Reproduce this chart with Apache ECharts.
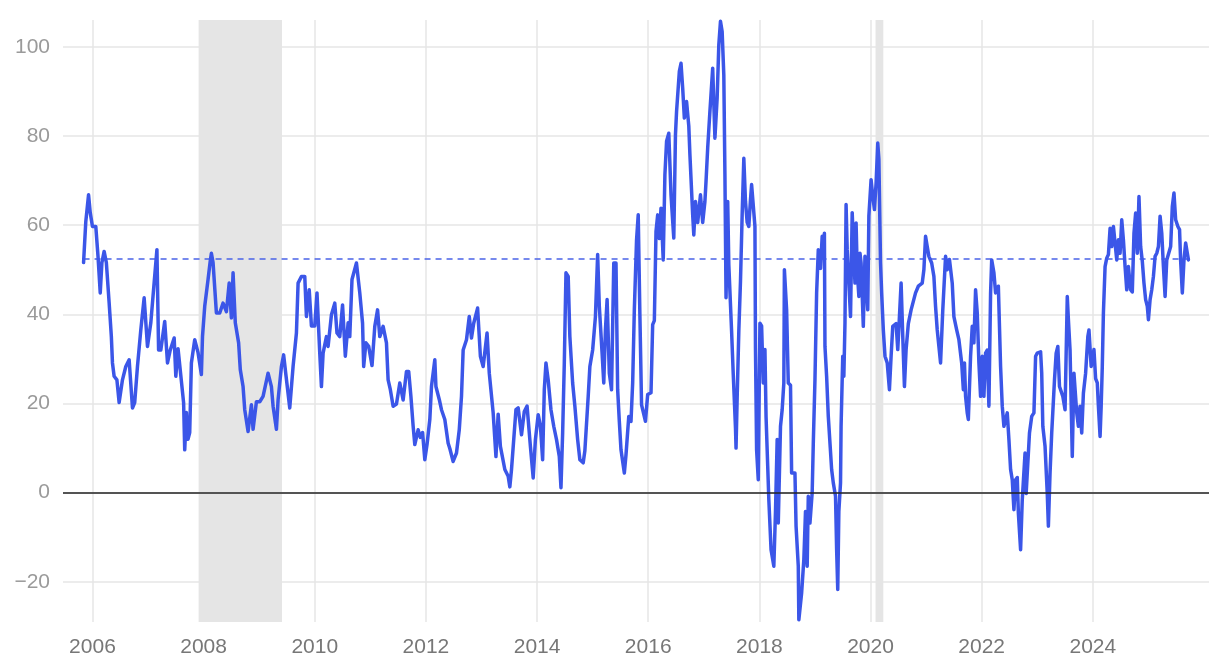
<!DOCTYPE html>
<html><head><meta charset="utf-8">
<script src="https://cdn.jsdelivr.net/npm/echarts@6/dist/echarts.min.js"></script>
<style>html,body{margin:0;padding:0;background:#fff}#c{width:1220px;height:668px}</style>
</head><body><div id="c"></div>
<script>
// decimal years
const years = [
2005.84,2005.86,2005.88,2005.93,2005.96,2006.00,2006.06,2006.10,2006.14,2006.17,2006.21,2006.25,2006.30,2006.34,2006.36,2006.39,2006.44,2006.48,2006.54,2006.60,2006.66,2006.72,2006.76,2006.81,2006.87,2006.93,2006.99,2007.05,2007.11,2007.16,2007.19,2007.23,2007.30,2007.35,2007.40,2007.47,2007.50,2007.54,2007.64,2007.66,2007.69,2007.72,2007.75,2007.78,2007.84,2007.90,2007.96,2007.98,
2008.02,2008.08,2008.12,2008.14,2008.17,2008.23,2008.29,2008.35,2008.41,2008.46,2008.50,2008.53,2008.57,2008.63,2008.66,2008.71,2008.74,2008.80,2008.86,2008.89,2008.95,
2009.01,2009.07,2009.16,2009.22,2009.25,2009.31,2009.34,2009.40,2009.44,2009.48,2009.55,2009.61,2009.67,2009.70,2009.76,2009.82,2009.85,2009.90,2009.94,
2010.00,2010.04,2010.09,2010.12,2010.15,2010.21,2010.24,2010.30,2010.36,2010.40,2010.45,2010.50,2010.55,2010.60,2010.63,2010.67,2010.75,2010.81,2010.86,2010.88,2010.92,2010.97,
2011.03,2011.08,2011.13,2011.17,2011.23,2011.29,2011.32,2011.36,2011.41,2011.47,2011.53,2011.59,2011.65,2011.69,2011.73,2011.77,2011.80,2011.86,2011.90,2011.94,2011.98,
2012.02,2012.07,2012.10,2012.16,2012.18,2012.24,2012.28,2012.34,2012.40,2012.43,2012.49,2012.55,2012.60,2012.64,2012.67,2012.73,2012.78,2012.82,2012.86,2012.93,2012.98,
2013.03,2013.10,2013.14,2013.21,2013.26,2013.30,2013.34,2013.42,2013.48,2013.51,2013.54,2013.62,2013.66,2013.72,2013.77,2013.82,2013.88,2013.93,2013.97,
2014.02,2014.06,2014.10,2014.13,2014.16,2014.20,2014.25,2014.30,2014.35,2014.40,2014.43,2014.46,2014.49,2014.52,2014.56,2014.59,2014.64,2014.68,2014.73,2014.77,2014.83,2014.86,2014.92,2014.95,
2015.00,2015.05,2015.09,2015.12,2015.17,2015.20,2015.23,2015.26,2015.30,2015.34,2015.38,2015.42,2015.45,2015.48,2015.51,2015.57,2015.60,2015.65,2015.69,2015.72,2015.75,2015.79,2015.82,2015.85,2015.88,2015.95,2015.99,
2016.05,2016.08,2016.11,2016.14,2016.17,2016.20,2016.23,2016.27,2016.30,2016.33,2016.37,2016.41,2016.46,2016.49,2016.51,2016.56,2016.59,2016.62,2016.65,2016.69,2016.73,2016.75,2016.80,2016.82,2016.85,2016.89,2016.94,2016.98,
2017.02,2017.04,2017.07,2017.11,2017.16,2017.20,2017.24,2017.27,2017.30,2017.33,2017.36,2017.38,2017.40,2017.43,2017.45,2017.50,2017.53,2017.57,2017.58,2017.60,2017.63,2017.66,2017.69,2017.72,2017.75,2017.78,2017.81,2017.84,2017.86,2017.88,2017.92,2017.93,2017.95,2017.98,
2018.01,2018.04,2018.07,2018.10,2018.12,2018.15,2018.17,2018.21,2018.26,2018.29,2018.32,2018.34,2018.38,2018.41,2018.44,2018.45,2018.49,2018.52,2018.56,2018.58,2018.64,2018.66,2018.70,2018.71,2018.76,2018.80,2018.83,2018.86,2018.88,2018.91,2018.95,2018.97,
2019.00,2019.03,2019.06,2019.10,2019.13,2019.15,2019.17,2019.18,2019.21,2019.24,2019.30,2019.33,2019.37,2019.39,2019.41,2019.43,2019.46,2019.47,2019.50,2019.52,2019.54,2019.56,2019.58,2019.64,2019.67,2019.72,2019.74,2019.76,2019.79,2019.81,2019.83,2019.87,2019.90,2019.95,2019.97,
2020.01,2020.04,2020.07,2020.10,2020.13,2020.15,2020.18,2020.20,2020.23,2020.26,2020.30,2020.34,2020.37,2020.40,2020.46,2020.49,2020.52,2020.55,2020.58,2020.61,2020.64,2020.68,2020.73,2020.81,2020.86,2020.93,2020.96,2020.99,
2021.02,2021.05,2021.10,2021.14,2021.17,2021.20,2021.23,2021.26,2021.30,2021.35,2021.38,2021.42,2021.47,2021.50,2021.55,2021.59,2021.64,2021.67,2021.69,2021.71,2021.74,2021.76,2021.80,2021.83,2021.86,2021.89,2021.92,2021.95,2021.98,
2022.01,2022.04,2022.07,2022.10,2022.13,2022.16,2022.18,2022.22,2022.25,2022.30,2022.34,2022.37,2022.40,2022.46,2022.49,2022.52,2022.55,2022.58,2022.61,2022.64,2022.66,2022.70,2022.73,2022.78,2022.80,2022.83,2022.86,2022.90,2022.94,2022.97,
2023.00,2023.06,2023.08,2023.10,2023.14,2023.18,2023.20,2023.23,2023.26,2023.31,2023.34,2023.37,2023.40,2023.42,2023.46,2023.50,2023.54,2023.56,2023.59,2023.63,2023.66,2023.68,2023.71,2023.74,2023.77,2023.80,2023.83,2023.87,2023.91,2023.93,2023.97,
2024.02,2024.05,2024.08,2024.10,2024.13,2024.15,2024.17,2024.19,2024.22,2024.25,2024.28,2024.31,2024.34,2024.37,2024.40,2024.43,2024.46,2024.49,2024.52,2024.55,2024.58,2024.61,2024.64,2024.68,2024.71,2024.74,2024.77,2024.80,2024.83,2024.86,2024.89,2024.92,2024.95,2024.98,
2025.00,2025.03,2025.06,2025.09,2025.12,2025.15,2025.18,2025.21,2025.24,2025.27,2025.30,2025.33,2025.36,2025.40,2025.43,2025.46,2025.49,2025.53,2025.56,2025.58,2025.61,2025.64,2025.67,2025.70,2025.72
];
const values = [
51.6,51.8,60.8,66.8,62.8,59.7,59.7,53,44.8,51.6,54.1,51.6,42.6,35,29.1,26.1,25.3,20.2,25.3,28.3,29.8,19.0,20.2,28.3,36.5,43.7,32.8,38.1,47.1,54.5,32,32,38.4,29.1,32,34.7,26.1,32.3,20.2,9.6,18,12,13.5,29.1,34.3,31.4,26.5,35,
41.8,47.8,52,53.7,51.6,40.3,40.3,42.5,40.6,47,39.2,49.3,38.1,33.6,27.6,23.8,18.6,13.7,19.7,14.2,20.4,
20.4,21.6,26.8,23.8,19.4,14.2,20.8,28.3,30.9,26.5,19.0,28.3,35.8,47,48.5,48.5,39.5,45.5,37.4,
37.4,44.8,31.3,23.8,31.3,35,32.8,39.9,42.5,35.8,35,42.1,30.6,38.1,35,47.8,51.5,44.8,38,28.3,33.6,32.8,
28.5,37.3,41,35,37.3,33.6,25.3,23.1,19.4,19.9,24.6,20.8,27.2,27.2,21.6,14.9,10.8,14.1,12.4,13.5,7.4,
10.8,16.4,23.8,29.8,23.8,20.9,18.6,16.4,11.1,9.9,7,8.9,14.1,21.6,32,34.3,39.5,34.7,38,41.4,30.6,
28.3,35.8,26.8,17.9,8.1,17.6,10.4,5.2,3.7,1.3,5.2,18.6,19,13,18.2,19.4,10.4,3.3,11.9,
17.5,15,7.4,23.1,29.1,25.3,18.6,14.9,11.9,8.1,1.1,13.4,29.1,49.3,48.5,35,24.6,19.4,11.9,7.4,6.7,9.4,21.6,28.3,
32,39.5,53.4,41.8,31.3,24.6,36.5,43.3,26.8,23.1,51.5,51.5,23.1,16,9.6,4.4,8.5,17.1,16,24.6,41,56.7,62.3,39.9,19.7,16,22,
22.4,37.7,38.6,58.6,62.3,57,63.8,52.2,71.3,78.8,80.6,66.8,57.1,80.3,85.5,94.5,96.3,90.7,84,87.7,82.2,75.8,62.3,57.8,65.3,60.6,66.8,60.6,
65.3,69.8,77.3,85.5,95.2,79.5,88.5,100.4,105.7,103.4,93.7,71.3,43.7,65.3,51.1,36.2,26.5,14.5,10,21.2,36.2,47.4,62.3,75,65.3,60.6,59.7,65.7,69.1,69.4,59.7,32.1,9.6,2.9,
38,37.4,24.6,32.1,17.1,5.9,-1.6,-12.8,-16.5,-4.2,11.9,-6.8,14.9,18.6,24.6,50,41,24.6,24.1,4.4,4.4,-7.5,-16.5,-28.5,-22.5,-15,-4.2,-16.5,-0.8,-6.8,0,11.1,
25.3,44.8,54.5,50.3,57.5,53,58.2,32.8,26.1,17.1,5.2,2.2,-0.8,-12.8,-21.7,-4.2,2.2,14.9,30.6,26.1,38,64.6,54.5,39.5,62.8,47,60.5,50,44,53.7,51.5,37.3,53,41,62,
70.2,66.5,63.5,69.4,78.4,74.8,51.5,44.8,36.5,30.6,29.1,23.1,30.6,37.3,37.9,32.1,39.5,47,35,23.8,32.1,37.9,41,44.8,46.3,47,50,57.5,
55.2,53,51.5,48.5,41.8,36.5,32.8,29.1,41,53,50,52.3,47,39.5,36.5,34.3,29.1,23.1,29.1,21.6,17.9,16.4,30.6,37.3,33.6,45.5,40.3,29.1,21.6,
30.6,21.6,31.3,32,19.4,44.8,52.2,49.3,44.8,46.3,28.3,19.4,14.9,17.9,11.9,5.2,2.9,-3.8,2.9,3.4,-4.6,-12.8,-1.6,8.9,-0.2,-0.2,13.4,17.1,17.9,30.6,
31.3,31.6,26.8,14.9,10.4,-0.2,-7.5,4.4,13.4,25.3,31.3,32.8,23.8,23.8,21.6,18.6,44,38.8,32,8.1,26.8,26.8,17.9,14.9,19.4,13.4,22.3,26.8,35,36.5,28.3,
32.1,25.6,24.6,19.4,12.6,19.4,28.3,40.3,50.7,52.6,53.4,59.3,55.2,59.7,59.7,52.2,56.7,53.7,61.2,56.7,50.7,45.5,50.7,45.5,45,58.2,62.7,53.7,66.4,55.2,51.9,47,43.3,41.8,
38.8,43.3,45.5,48.5,53,53.7,55.2,62,58.2,50.7,44,52.2,52.2,55.2,64.2,67.2,61.2,59.7,59,51.9,44.8,52.2,56,53.7,52.2
];
const meanValue = 52.4;
const xTickYears = [2006,2008,2010,2012,2014,2016,2018,2020,2022,2024];
const yTickValues = [-20,0,20,40,60,80,100];
const recessionStart = [2007.91, 2020.09];
const recessionEnd = [2009.41, 2020.23];

const lineData = years.map((y,i)=>[y, values[i]]);
const meanData = [[years[0], meanValue],[years[years.length-1], meanValue]];
const font = "'Liberation Sans', Arial, Helvetica, sans-serif";

const chart = echarts.init(document.getElementById('c'), null, {renderer:'canvas'});
chart.setOption({
  animation:false,
  backgroundColor:'#ffffff',
  grid:{left:63, right:11, top:20, bottom:46, containLabel:false},
  xAxis:{
    type:'value', min:2005.47, max:2026.09,
    axisLine:{show:false},
    axisTick:{show:false, customValues:xTickYears},
    axisLabel:{customValues:xTickYears, color:'#777', fontSize:21, fontFamily:font, margin:15,
      formatter:v=>String(Math.round(v))},
    splitLine:{show:true, lineStyle:{color:'#e6e6e6', width:1.5}}
  },
  yAxis:{
    type:'value', min:-29, max:106,
    axisLine:{show:false},
    axisTick:{show:false, customValues:yTickValues},
    axisLabel:{customValues:yTickValues, color:'#9a9a9a', fontSize:21, fontFamily:font, margin:13,
      formatter:v=> v<0 ? '\u2212'+Math.abs(v) : String(v)},
    splitLine:{show:true, lineStyle:{color:'#e6e6e6', width:1.5}}
  },
  series:[
    {type:'line', data:[], silent:true, z:1,
      markArea:{silent:true, itemStyle:{color:'#e5e5e5'},
        data: recessionStart.map((s,i)=>[{xAxis:s},{xAxis:recessionEnd[i]}])}},
    {type:'line', data:[], silent:true, z:2,
      markLine:{silent:true, symbol:['none','none'], label:{show:false},
        lineStyle:{color:'#222', width:1.5, type:'solid'},
        data:[{yAxis:0}]}},
    {type:'line', data:meanData, showSymbol:false, silent:true, z:3,
      lineStyle:{color:'#4a63e8', width:1.5, type:[6,5]}},
    {type:'line', data:lineData, showSymbol:false, silent:true, z:4,
      lineStyle:{color:'#3b56e8', width:3.5, join:'round', cap:'round'}}
  ]
});
</script></body></html>
